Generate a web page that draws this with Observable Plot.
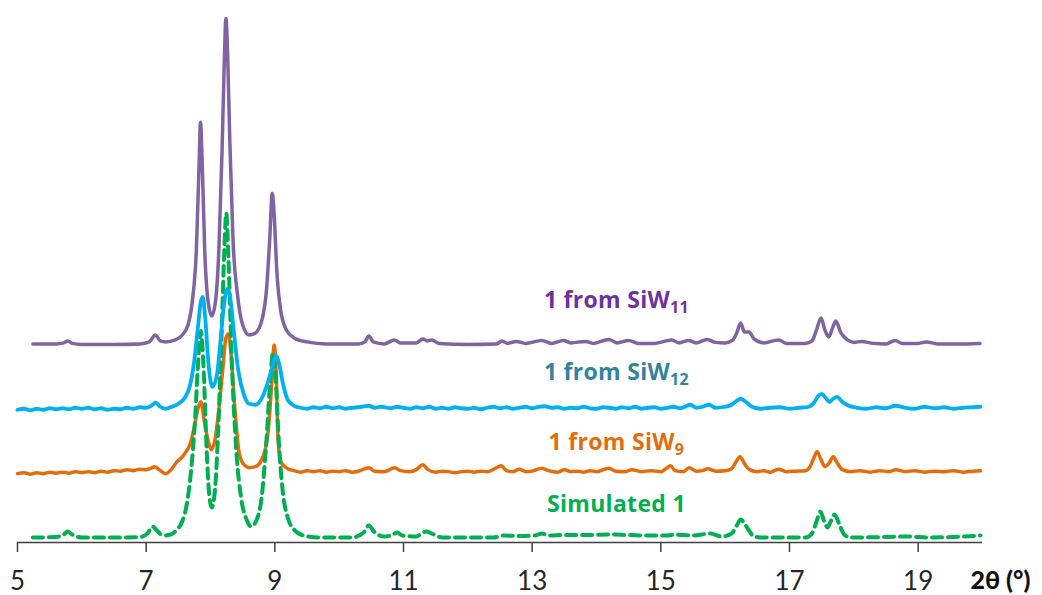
<!DOCTYPE html>
<html>
<head>
<meta charset="utf-8">
<script src="https://cdn.jsdelivr.net/npm/d3@7"></script>
<script src="https://cdn.jsdelivr.net/npm/@observablehq/plot@0.6"></script>
<style>
  html, body { margin: 0; padding: 0; background: #fff; }
  #chart { width: 1042px; height: 595px; overflow: hidden; }
</style>
</head>
<body>
<div id="chart"></div>
<script>
// ---- Data (2θ in degrees, intensity in arbitrary stacked units) ----
const xTicks = [5, 7, 9, 11, 13, 15, 17, 19];
const axisLabel = "2θ (°)";

// 1 from SiW11 (top trace)
const siw11 = [[5.24,199],[5.6,199],[5.72,200],[5.78,202],[5.85,199.5],[6.0,198.5],[6.5,198.5],[6.9,199],[7.05,201],[7.14,208],[7.22,202],[7.3,201],[7.45,203],[7.55,207],[7.65,218],[7.72,243],[7.78,293],[7.82,373],[7.845,421],[7.87,383],[7.91,293],[7.96,243],[8.02,227],[8.08,243],[8.13,293],[8.18,393],[8.215,483],[8.24,525],[8.265,493],[8.3,403],[8.35,303],[8.42,248],[8.5,218],[8.6,208],[8.7,210],[8.8,223],[8.87,253],[8.92,303],[8.96,350],[8.99,328],[9.03,273],[9.09,233],[9.18,213],[9.3,205],[9.5,201],[9.8,199],[10.3,199],[10.4,201],[10.46,207],[10.53,201],[10.7,199],[10.86,203],[10.95,200],[11.2,200],[11.3,204],[11.37,202],[11.44,203],[11.55,199.5],[12.0,198.5],[12.45,199],[12.53,202],[12.62,199.5],[12.75,201.5],[12.9,199.5],[13.15,202.5],[13.3,199.5],[13.49,202.5],[13.6,200],[13.83,201.5],[13.95,199.5],[14.19,203.5],[14.32,200],[14.5,202.5],[14.65,199.5],[14.9,199.5],[15.17,203],[15.28,200],[15.43,202.5],[15.55,200],[15.72,203.5],[15.85,200.5],[16.0,200],[16.12,203],[16.18,210],[16.24,220],[16.3,211],[16.37,211],[16.45,204],[16.6,200],[16.83,203],[16.95,199.5],[17.25,199.5],[17.35,202],[17.42,213],[17.49,225],[17.55,213],[17.61,206],[17.67,215],[17.72,222],[17.8,210],[17.9,203],[18.0,200.5],[18.12,201.5],[18.3,199.5],[18.5,199],[18.64,202.5],[18.75,199.5],[19.0,199.5],[19.13,201],[19.3,199],[19.6,199],[19.96,199.5]];

// 1 from SiW12
const siw12 = [[5.0,133],[5.1,134],[5.2,132.5],[5.3,134],[5.4,133],[5.5,134.5],[5.6,133.5],[5.7,134.5],[5.8,133.5],[5.9,135],[6.0,134],[6.1,135],[6.2,133.5],[6.3,134.5],[6.4,133],[6.5,134],[6.6,133.5],[6.7,135],[6.8,134],[6.9,135.5],[7.0,135],[7.08,137],[7.15,140],[7.22,136],[7.3,134],[7.4,136],[7.5,139],[7.6,145],[7.68,157],[7.74,178],[7.8,213],[7.85,241],[7.88,246],[7.92,223],[7.97,178],[8.03,156],[8.1,168],[8.15,198],[8.2,233],[8.26,254],[8.3,248],[8.36,213],[8.43,173],[8.52,148],[8.6,139],[8.7,138],[8.8,145],[8.88,158],[8.95,173],[9.02,187],[9.07,178],[9.13,158],[9.2,143],[9.3,137],[9.4,135],[9.5,134],[9.6,135.5],[9.7,134.5],[9.8,136],[9.9,134.5],[10.0,135.5],[10.1,134],[10.2,135],[10.3,135.5],[10.46,137],[10.55,135],[10.65,136],[10.8,134.5],[10.9,136],[11.0,135],[11.1,134],[11.2,135.5],[11.3,134.5],[11.4,136],[11.5,134],[11.6,135],[11.7,134],[11.8,135.5],[11.9,134.5],[12.0,134],[12.1,135],[12.2,133.5],[12.3,135],[12.4,136],[12.5,134.5],[12.6,135.5],[12.7,134],[12.8,135],[12.9,136],[13.0,134.5],[13.1,136],[13.2,136.5],[13.3,135],[13.4,135.5],[13.5,134],[13.6,135],[13.7,134.5],[13.8,136],[13.9,134.5],[14.0,134],[14.1,135.5],[14.2,135],[14.3,134],[14.4,135.5],[14.5,134.5],[14.6,136],[14.7,134],[14.8,135],[14.9,135.5],[15.0,134],[15.1,135],[15.2,136],[15.3,134.5],[15.46,138],[15.55,135],[15.65,136],[15.75,138],[15.85,135],[16.0,136],[16.1,138],[16.18,142],[16.24,144],[16.32,141],[16.42,136],[16.55,134],[16.7,135],[16.85,135.5],[17.0,134],[17.15,135],[17.3,136],[17.38,140],[17.45,147],[17.5,149],[17.56,145],[17.62,141],[17.68,144],[17.74,146],[17.82,141],[17.92,137],[18.05,135],[18.2,134],[18.35,135.5],[18.5,134.5],[18.65,137],[18.8,135],[18.95,134],[19.1,136],[19.25,134.5],[19.4,135.5],[19.55,134],[19.7,135],[19.85,135.5],[19.97,136]];

// 1 from SiW9
const siw9 = [[5.0,69],[5.1,70],[5.2,68.5],[5.3,70],[5.4,69],[5.5,70.5],[5.6,69.5],[5.7,70.5],[5.8,69.5],[5.9,71],[6.0,70],[6.1,71],[6.2,70],[6.3,71.5],[6.4,70.5],[6.5,72],[6.6,71.5],[6.7,73],[6.8,72],[6.9,73.5],[7.0,73],[7.08,74.5],[7.13,76],[7.2,73],[7.3,69],[7.4,74],[7.48,81],[7.55,85],[7.62,91],[7.68,98],[7.74,113],[7.8,133],[7.85,141],[7.9,123],[7.96,103],[8.01,93],[8.07,103],[8.13,133],[8.19,173],[8.24,205],[8.28,209],[8.32,188],[8.38,133],[8.45,88],[8.52,78],[8.6,75],[8.7,76],[8.78,81],[8.85,93],[8.9,113],[8.95,158],[8.99,198],[9.02,173],[9.05,103],[9.1,80],[9.2,74],[9.3,72],[9.4,70.5],[9.5,72],[9.6,71],[9.7,72],[9.8,70.5],[9.9,71.5],[10.0,71],[10.1,72],[10.2,70.5],[10.3,71.5],[10.46,75],[10.55,71.5],[10.7,71],[10.86,75],[10.95,72],[11.1,71],[11.2,73],[11.3,78],[11.38,73],[11.5,70.5],[11.6,71.5],[11.7,71],[11.8,70],[11.9,71],[12.0,71.5],[12.1,70.5],[12.2,71.5],[12.3,71],[12.45,75],[12.52,77],[12.6,72],[12.7,71],[12.8,73.5],[12.9,71],[13.0,71.5],[13.15,74.5],[13.25,72],[13.4,70.5],[13.5,73],[13.6,71],[13.7,71.5],[13.8,70.5],[13.9,72],[14.0,71],[14.19,74.5],[14.3,71.5],[14.45,71],[14.55,73],[14.7,71],[14.85,72],[15.0,71],[15.08,74],[15.15,77],[15.22,72],[15.35,71],[15.44,75],[15.55,71.5],[15.65,72],[15.73,74],[15.85,71.5],[16.0,72],[16.1,74],[16.17,81],[16.23,86],[16.3,79],[16.38,73],[16.5,71],[16.6,72],[16.7,70.5],[16.83,73.5],[16.95,71],[17.1,71.5],[17.25,72],[17.32,76],[17.38,85],[17.43,91],[17.49,83],[17.55,76],[17.62,80],[17.68,86],[17.74,80],[17.82,73],[17.95,71],[18.1,72],[18.25,70.5],[18.4,72],[18.55,71],[18.65,73],[18.8,71],[18.95,72],[19.1,70.5],[19.25,71.5],[19.4,71],[19.55,72],[19.7,70.5],[19.85,71.5],[19.97,72]];

// Simulated 1
const simulated = [[5.24,5],[5.6,5.5],[5.72,8],[5.78,11],[5.85,8],[6.0,5],[6.5,5],[6.9,5.5],[7.02,9],[7.1,16],[7.18,11],[7.27,7],[7.38,8],[7.48,13],[7.56,21],[7.63,38],[7.7,73],[7.76,123],[7.81,183],[7.85,212],[7.89,178],[7.94,93],[7.98,48],[8.02,35],[8.07,53],[8.12,113],[8.17,203],[8.215,293],[8.245,330],[8.28,283],[8.33,183],[8.4,93],[8.48,43],[8.56,23],[8.63,16],[8.72,23],[8.8,48],[8.87,103],[8.93,163],[8.97,190],[9.01,168],[9.06,103],[9.12,53],[9.2,25],[9.3,13],[9.45,7],[9.7,5],[10.2,5],[10.38,10],[10.46,17],[10.54,11],[10.7,6],[10.84,8],[10.9,10],[10.98,7],[11.2,6],[11.3,10],[11.36,11],[11.44,9],[11.6,5],[12.4,5],[12.55,7],[12.8,6.5],[13.05,7],[13.15,9],[13.25,7],[13.5,7.5],[13.8,7.5],[14.19,8],[14.5,7.5],[14.8,7],[15.1,7],[15.2,8],[15.5,7],[15.77,9],[15.95,6],[16.1,9],[16.18,17],[16.24,23],[16.3,19],[16.36,13],[16.45,6],[16.6,5],[17.25,5],[17.35,9],[17.42,21],[17.48,31],[17.54,21],[17.59,15],[17.64,21],[17.7,28],[17.77,19],[17.85,8],[17.95,5],[18.5,5.5],[18.8,6],[19.2,5],[19.97,7]];

// Labels: main text, subscript, anchor (2θ, intensity)
const labelText = ["1 from SiW", "1 from SiW", "1 from SiW", "Simulated 1"];
const labelSub = ["11", "12", "9", ""];
const labelTheta = [14.31, 14.31, 14.31, 14.31];
const labelValue = [242, 170, 100, 38];

// ---- Styles ----
const colors = {siw11: "#8064a2", siw12: "#00b0f0", siw9: "#e46c0a", sim: "#00b050"};
const labelColors = ["#7030a0", "#31849b", "#e46c0a", "#00b050"];

const toRows = (arr) => arr.map(([t, v]) => ({t, v}));
const labels = labelText.map((text, i) => ({text: text + labelSub[i], main: text, sub: labelSub[i], t: labelTheta[i], v: labelValue[i], color: labelColors[i]}));

const plot = Plot.plot({
  width: 1042,
  height: 595,
  marginLeft: 17,
  marginRight: 60,
  marginTop: 18,
  marginBottom: 53,
  x: {domain: [5, 20]},
  y: {domain: [0, 525], axis: null},
  style: {fontFamily: "Lato, sans-serif", fontSize: "26px", color: "#262626", background: "#fff"},
  marks: [
    Plot.line(toRows(siw9), {x: "t", y: "v", stroke: colors.siw9, strokeWidth: 3.5, curve: "monotone-x"}),
    Plot.line(toRows(simulated), {x: "t", y: "v", stroke: colors.sim, strokeWidth: 4, strokeDasharray: "10,6", curve: "monotone-x"}),
    Plot.line(toRows(siw12), {x: "t", y: "v", stroke: colors.siw12, strokeWidth: 3.8, curve: "monotone-x"}),
    Plot.line(toRows(siw11), {x: "t", y: "v", stroke: colors.siw11, strokeWidth: 3.5, curve: "monotone-x"}),
    Plot.ruleY([0], {stroke: "#404040", strokeWidth: 1.5}),
    Plot.axisX({ticks: xTicks, tickSize: 10, tickPadding: 19, tickFormat: d => String(d), label: null, stroke: "#404040", strokeWidth: 1.5}),
    Plot.text([axisLabel], {frameAnchor: "bottom-right", text: d => d, textAnchor: "start", lineAnchor: "top", dx: -12, dy: 29, fontWeight: 900, fontSize: 25, fill: "#111"}),
    Plot.text(labels, {x: "t", y: "v", text: "text", fill: "color", textAnchor: "middle", lineAnchor: "middle", fontFamily: "'Open Sans', sans-serif", fontWeight: 700, fontSize: 23, className: "series-label"})
  ]
});

// Render subscripts as tspans (real text)
d3.select(plot).selectAll(".series-label text").each(function(_, i) {
  const lab = labels[i];
  const el = d3.select(this);
  el.attr("letter-spacing", "0.3");
  el.text(null);
  el.append("tspan").text(lab.main);
  if (lab.sub) el.append("tspan").attr("font-size", "16px").attr("dy", "5").text(lab.sub);
});

document.getElementById("chart").appendChild(plot);
</script>
</body>
</html>
